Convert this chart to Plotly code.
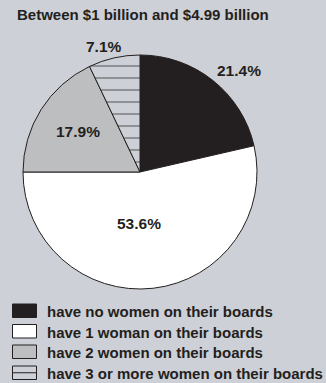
import plotly.graph_objects as go

# ---- data ----
categories = [
    "have no women on their boards",
    "have 1 woman on their boards",
    "have 2 women on their boards",
    "have 3 or more women on their boards",
]
shares = [21.4, 53.6, 17.9, 7.1]
share_labels = ["21.4%", "53.6%", "17.9%", "7.1%"]
title_text = "Between $1 billion and $4.99 billion"

# ---- style ----
W, H = 326, 383
BG = "#cdd0d6"
INK = "#231f20"
slice_colors = [INK, "#ffffff", "#bdbec0", BG]
patterns = ["", "", "", "-"]
FONT = "Liberation Sans, Arial, sans-serif"

def px(x):
    return x / W

def py(y):
    return 1 - y / H

fig = go.Figure()
fig.add_trace(go.Pie(
    labels=categories,
    values=shares,
    sort=False,
    direction="clockwise",
    rotation=0,
    textinfo="none",
    hoverinfo="label+percent",
    showlegend=False,
    marker=dict(
        colors=slice_colors,
        line=dict(color=INK, width=1),
        pattern=dict(shape=patterns, fgcolor=INK, fillmode="overlay",
                     size=12, solidity=0.12),
    ),
    domain=dict(x=[px(23), px(257)], y=[py(289), py(55)]),
))

annotations = []
# title
annotations.append(dict(
    text=title_text, x=px(15), y=py(15), xref="paper", yref="paper",
    xanchor="left", yanchor="middle", showarrow=False,
    font=dict(family=FONT, size=15, color=INK, weight="bold"),
))
# slice value labels
label_pos = [(239, 70), (138.5, 223), (77.5, 131), (104, 46)]
for txt, (lx, ly) in zip(share_labels, label_pos):
    annotations.append(dict(
        text=txt, x=px(lx), y=py(ly), xref="paper", yref="paper",
        xanchor="center", yanchor="middle", showarrow=False,
        font=dict(family=FONT, size=15.5, color=INK, weight="bold"),
    ))

# custom legend
shapes = []
row_top = [304, 324.5, 345, 366]
box_h = 13.5
for i, name in enumerate(categories):
    y0 = row_top[i]
    y1 = y0 + box_h
    shapes.append(dict(
        type="rect", xref="paper", yref="paper",
        x0=px(12.5), x1=px(36.5), y0=py(y1), y1=py(y0),
        fillcolor=slice_colors[i], line=dict(color=INK, width=1),
    ))
    if patterns[i] == "-":
        ym = (y0 + y1) / 2
        shapes.append(dict(
            type="line", xref="paper", yref="paper",
            x0=px(12.5), x1=px(36.5), y0=py(ym), y1=py(ym),
            line=dict(color=INK, width=1),
        ))
    annotations.append(dict(
        text=name, x=px(45), y=py(y0 + box_h / 2 + 1), xref="paper", yref="paper",
        xanchor="left", yanchor="middle", showarrow=False,
        font=dict(family=FONT, size=15, color=INK, weight="bold"),
    ))

fig.update_layout(
    width=W, height=H,
    margin=dict(l=0, r=0, t=0, b=0),
    paper_bgcolor=BG, plot_bgcolor=BG,
    annotations=annotations, shapes=shapes,
    showlegend=False,
)

fig.write_html("out.html")
